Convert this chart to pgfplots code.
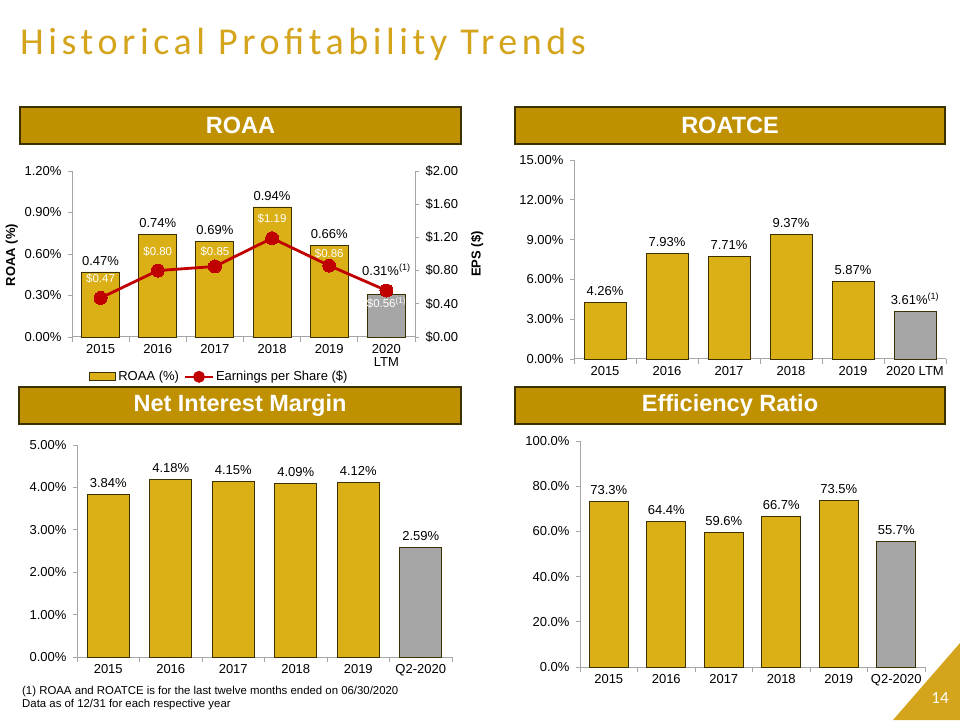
\documentclass[border=0pt]{standalone}
\usepackage{pgfplots}
\pgfplotsset{compat=1.18}
\usepackage{fontspec}
\setmainfont{Liberation Sans}
\newfontfamily\titlefont[LetterSpace=12]{Carlito}
\newfontfamily\calibri{Carlito}
\definecolor{barGold}{HTML}{DAB016}
\definecolor{headGold}{HTML}{BF9000}
\definecolor{titleGold}{HTML}{D4A51C}
\definecolor{barGray}{HTML}{A6A6A6}
\definecolor{epsRed}{HTML}{C00000}
\definecolor{axGray}{HTML}{A6A6A6}
\definecolor{edge}{HTML}{3A3000}
\newcommand{\fs}[1]{\fontsize{#1}{#1}\selectfont}

\pgfplotsset{
  /pgf/number format/assume math mode=true,
  slide/.style={
    scale only axis, anchor=south west,
    xmin=-0.5, xmax=5.5, ymin=0,
    axis x line*=bottom, axis y line*=left,
    axis line style={axGray, line width=1pt, -},
    xtick={0,...,5}, minor xtick={-0.5,0.5,...,5.5},
    major x tick style={draw=none},
    minor x tick style={draw=axGray, line width=0.8pt},
    major y tick style={draw=axGray, line width=0.8pt},
    tick align=outside, major tick length=4pt, minor tick length=5pt,
    tick label style={font=\fs{13}},
    yticklabel style={xshift=-3pt},
    xticklabel style={align=center},
    nodes near coords style={font=\fs{13}, text=black, yshift=3pt},
    clip=false,
  },
  goldbar/.style={ybar, fill=barGold, draw=edge, line width=0.9pt},
  graybar/.style={ybar, fill=barGray, draw=edge, line width=0.9pt},
}
\tikzset{eps/.style={font=\fs{11.5}, text=white, anchor=center, inner sep=0pt}}

\begin{document}
\begin{tikzpicture}[x=1pt,y=1pt]
\fill[white] (0,0) rectangle (960,720);
\path[use as bounding box] (0,0) rectangle (960,720);

% title
\node[anchor=base west, inner sep=0pt, text=titleGold] at (20,665) {\titlefont\fs{38}Historical Profitability Trends};

% header bars
\draw[fill=headGold, draw=edge, line width=1.2pt] (20,576) rectangle (461,613);
\node[text=white, font=\fs{23.5}\bfseries] at (240.5,594.5) {ROAA};
\draw[fill=headGold, draw=edge, line width=1.2pt] (515,576) rectangle (945,613);
\node[text=white, font=\fs{23.5}\bfseries] at (730,594.5) {ROATCE};
\draw[fill=headGold, draw=edge, line width=1.2pt] (19,296) rectangle (461,333);
\node[text=white, font=\fs{23.5}\bfseries] at (240,314.5) {Net Interest Margin};
\draw[fill=headGold, draw=edge, line width=1.2pt] (515,296) rectangle (945,333);
\node[text=white, font=\fs{23.5}\bfseries] at (730,314.5) {Efficiency Ratio};

% ROAA bars
\begin{axis}[slide, at={(72pt,383pt)}, width=343pt, height=166pt, ymax=1.2,
  ytick={0,0.3,0.6,0.9,1.2}, yticklabels={0.00\%,0.30\%,0.60\%,0.90\%,1.20\%},
  xticklabels={2015,2016,2017,2018,2019,2020\\LTM},
  ylabel={ROAA (\%)}, ylabel style={font=\fs{13}\bfseries, xshift=-1pt}]
\addplot[goldbar, bar width=38pt, nodes near coords={\pgfmathprintnumber[fixed,fixed zerofill,precision=2,assume math mode=true]{\pgfplotspointmeta}\%}]
  coordinates {(0,0.47)(1,0.74)(2,0.69)(3,0.94)(4,0.66)};
\addplot[graybar, bar width=38pt, nodes near coords={0.31\%\textsuperscript{(1)}},
  nodes near coords style={yshift=12pt}]
  coordinates {(5,0.31)};
\node[eps] at (axis cs:0,0.419) {\$0.47};
\node[eps] at (axis cs:1,0.614) {\$0.80};
\node[eps] at (axis cs:2,0.614) {\$0.85};
\node[eps] at (axis cs:3,0.853) {\$1.19};
\node[eps] at (axis cs:4,0.600) {\$0.86};
\node[eps] at (axis cs:5,0.246) {\$0.56\textsuperscript{(1)}};
\end{axis}

% ROAA EPS line (right axis)
\begin{axis}[scale only axis, anchor=south west, at={(72pt,383pt)}, width=343pt, height=166pt,
  xmin=-0.5, xmax=5.5, ymin=0, ymax=2,
  axis x line=none, axis y line*=right, axis line style={axGray, line width=1pt, -},
  ytick={0,0.4,0.8,1.2,1.6,2.0}, yticklabels={\$0.00,\$0.40,\$0.80,\$1.20,\$1.60,\$2.00},
  major y tick style={draw=axGray, line width=0.8pt}, tick align=outside, major tick length=4pt,
  tick label style={font=\fs{13}}, yticklabel style={xshift=3pt},
  ylabel={EPS (\$)}, ylabel style={font=\fs{13}\bfseries, yshift=-6pt},
  legend style={at={(0.43,-0.24)}, anchor=center, draw=none, fill=none, legend columns=2,
    font=\fs{13}, inner sep=0pt, /tikz/every even column/.append style={column sep=3pt}},
  clip=false]
\addlegendimage{legend image code/.code={\draw[fill=barGold,draw=edge,line width=0.9pt] (0pt,-4pt) rectangle (26pt,4pt);}}
\addlegendentry{ROAA (\%)}
\addplot[epsRed, line width=2.8pt, mark=*, mark size=6.5pt, mark options={fill=epsRed, draw=epsRed, line width=0pt},
  legend image code/.code={\draw[epsRed, line width=2pt] (0pt,0pt) -- (28pt,0pt); \fill[epsRed] (14pt,0pt) circle (4.5pt);}]
  coordinates {(0,0.47)(1,0.80)(2,0.85)(3,1.19)(4,0.86)(5,0.56)};
\addlegendentry{Earnings per Share (\$)}
\end{axis}

% ROATCE
\begin{axis}[slide, at={(574pt,361pt)}, width=372pt, height=199pt, ymax=15,
  ytick={0,3,6,9,12,15}, yticklabels={0.00\%,3.00\%,6.00\%,9.00\%,12.00\%,15.00\%},
  xticklabels={2015,2016,2017,2018,2019,2020 LTM}]
\addplot[goldbar, bar width=42pt, nodes near coords={\pgfmathprintnumber[fixed,fixed zerofill,precision=2,assume math mode=true]{\pgfplotspointmeta}\%}]
  coordinates {(0,4.26)(1,7.93)(2,7.71)(3,9.37)(4,5.87)};
\addplot[graybar, bar width=42pt, nodes near coords={3.61\%\textsuperscript{(1)}}]
  coordinates {(5,3.61)};
\end{axis}

% Net Interest Margin
\begin{axis}[slide, at={(77pt,63pt)}, width=375pt, height=212pt, ymax=5,
  ytick={0,1,2,3,4,5}, yticklabels={0.00\%,1.00\%,2.00\%,3.00\%,4.00\%,5.00\%},
  xticklabels={2015,2016,2017,2018,2019,Q2-2020}]
\addplot[goldbar, bar width=42pt, nodes near coords={\pgfmathprintnumber[fixed,fixed zerofill,precision=2,assume math mode=true]{\pgfplotspointmeta}\%}]
  coordinates {(0,3.84)(1,4.18)(2,4.15)(3,4.09)(4,4.12)};
\addplot[graybar, bar width=42pt, nodes near coords={\pgfmathprintnumber[fixed,fixed zerofill,precision=2,assume math mode=true]{\pgfplotspointmeta}\%}]
  coordinates {(5,2.59)};
\end{axis}

% Efficiency Ratio
\begin{axis}[slide, at={(580pt,53pt)}, width=345pt, height=226pt, ymax=100,
  ytick={0,20,40,60,80,100}, yticklabels={0.0\%,20.0\%,40.0\%,60.0\%,80.0\%,100.0\%},
  xticklabels={2015,2016,2017,2018,2019,Q2-2020}]
\addplot[goldbar, bar width=39pt, nodes near coords={\pgfmathprintnumber[fixed,fixed zerofill,precision=1,assume math mode=true]{\pgfplotspointmeta}\%}]
  coordinates {(0,73.3)(1,64.4)(2,59.6)(3,66.7)(4,73.5)};
\addplot[graybar, bar width=39pt, nodes near coords={\pgfmathprintnumber[fixed,fixed zerofill,precision=1,assume math mode=true]{\pgfplotspointmeta}\%}]
  coordinates {(5,55.7)};
\end{axis}

% footnotes
\node[anchor=base west, inner sep=0pt, font=\fs{11.4}] at (22,26) {(1) ROAA and ROATCE is for the last twelve months ended on 06/30/2020};
\node[anchor=base west, inner sep=0pt, font=\fs{11.4}] at (22,13) {Data as of 12/31 for each respective year};

% page number corner
\fill[titleGold] (893,0) -- (960,0) -- (960,77) -- cycle;
\node[text=white, font=\calibri\fs{17}] at (940,22) {14};
\end{tikzpicture}
\end{document}
